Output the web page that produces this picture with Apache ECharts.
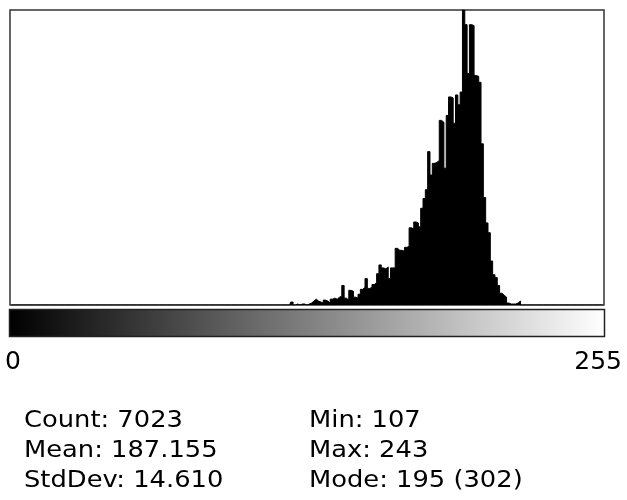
<!DOCTYPE html>
<html>
<head>
<meta charset="utf-8">
<script src="https://cdn.jsdelivr.net/npm/echarts@6/dist/echarts.min.js"></script>
<style>
    html, body { margin: 0; padding: 0; background: #fff; }
    #chart { width: 627px; height: 500px; }
</style>
</head>
<body>
<div id="chart"></div>
<script>
// bins 0..255, only the non-empty part is listed, starting at firstBin
var firstBin = 121;
var counts = [
    3, 0, 1, 0, 1, 1, 0, 1, 2, 4,          // 121-130
    6, 4, 3, 2, 5, 4, 2, 6, 7, 6,          // 131-140
    8, 9, 20, 7, 5, 15, 14, 8, 7, 11,      // 141-150
    16, 18, 27, 17, 18, 21, 23, 32, 41, 38, // 151-160
    37, 39, 27, 38, 38, 58, 56, 56, 55, 59, // 161-170
    60, 79, 78, 85, 84, 80, 99, 109, 118, 157, // 171-180
    133, 145, 146, 148, 189, 187, 140, 194, 213, 212, // 181-190
    186, 215, 205, 218, 302, 287, 237, 287, 286, 235, // 191-200
    234, 228, 165, 110, 84, 74, 45, 31, 28, 20, // 201-210
    12, 10, 8, 2, 1, 1, 1, 2, 4            // 211-219
];
var tickLabels = ['0', '255'];
var statsLeft = ['Count: 7023', 'Mean: 187.155', 'StdDev: 14.610'];
var statsRight = ['Min: 107', 'Max: 243', 'Mode: 195 (302)'];

var bins = [];
var values = [];
for (var i = 0; i < 256; i++) {
    bins.push(i);
    var k = i - firstBin;
    values.push(k >= 0 && k < counts.length ? counts[k] : 0);
}

var myChart = echarts.init(document.getElementById('chart'));

var graphics = [];
// grey level ramp under the plot
graphics.push({
    type: 'rect',
    shape: { x: 9.5, y: 309.5, width: 595, height: 27 },
    style: {
        fill: new echarts.graphic.LinearGradient(0, 0, 1, 0, [
            { offset: 0, color: '#000' },
            { offset: 1, color: '#fff' }
        ]),
        stroke: '#222',
        lineWidth: 1.5
    }
});
graphics.push({
    type: 'text', x: 5, y: 362,
    style: { text: tickLabels[0], font: '25px "DejaVu Sans"', fill: '#000', verticalAlign: 'middle' }
});
graphics.push({
    type: 'text', x: 622, y: 362,
    style: { text: tickLabels[1], font: '25px "DejaVu Sans"', fill: '#000', align: 'right', verticalAlign: 'middle' }
});
// stats block, the original font is wide and short so stretch a bit
for (var j = 0; j < statsLeft.length; j++) {
    graphics.push({
        type: 'text', x: 24, y: 421 + j * 30, scaleX: 1.12,
        style: { text: statsLeft[j], font: '23px "DejaVu Sans"', fill: '#000', verticalAlign: 'middle' }
    });
    graphics.push({
        type: 'text', x: 309, y: 421 + j * 30, scaleX: 1.12,
        style: { text: statsRight[j], font: '23px "DejaVu Sans"', fill: '#000', verticalAlign: 'middle' }
    });
}

option = {
    animation: false,
    backgroundColor: '#fff',
    grid: {
        left: 10, right: 23, top: 10, bottom: 195,
        show: true,
        borderColor: '#333',
        borderWidth: 1.5,
        backgroundColor: '#fff'
    },
    xAxis: {
        type: 'category',
        data: bins,
        boundaryGap: true,
        axisLine: { show: false },
        axisTick: { show: false },
        axisLabel: { show: false },
        splitLine: { show: false }
    },
    yAxis: {
        type: 'value',
        min: 0,
        max: 302,
        axisLine: { show: false },
        axisTick: { show: false },
        axisLabel: { show: false },
        splitLine: { show: false }
    },
    // stepped filled line = solid histogram without hairline gaps
    series: [{
        type: 'line',
        data: values,
        step: 'middle',
        symbol: 'none',
        lineStyle: { color: '#000', width: 1 },
        areaStyle: { color: '#000', opacity: 1 }
    }],
    graphic: graphics
};
myChart.setOption(option);
</script>
</body>
</html>
